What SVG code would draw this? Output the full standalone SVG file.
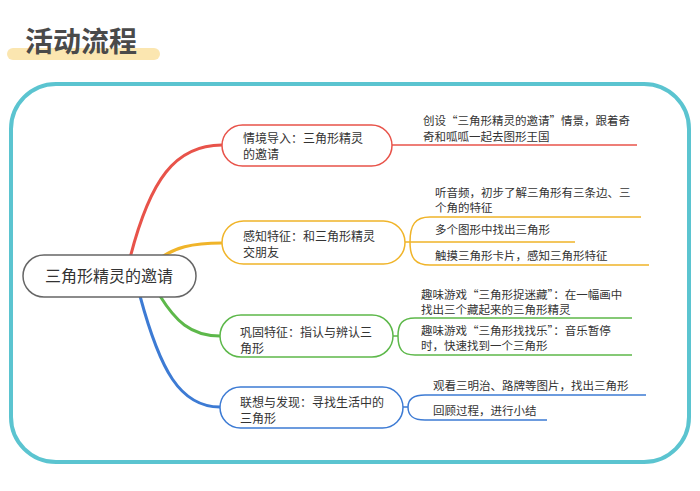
<svg xmlns="http://www.w3.org/2000/svg" width="700" height="491" viewBox="0 0 700 491">
<style>
text{font-family:"Noto Sans CJK SC","Noto Sans",sans-serif;fill:#333;font-size:12px}
.s{font-size:11.5px}
.n{fill:#fff;stroke-width:1.5}
.c{fill:none;stroke-width:3}
.l{fill:none;stroke-width:1.5}
</style>
<rect width="700" height="491" fill="#fff"/>
<g id="title">
<rect x="7" y="48" width="153" height="12" rx="6" fill="#fbe6b0"/>
<text x="25" y="52" style="font-size:28px;font-weight:bold;fill:#4a4a4a">活动流程</text>
</g>
<rect x="11" y="84" width="678" height="378" rx="45" fill="none" stroke="#5bc4d0" stroke-width="4"/>
<g id="connectors">
<path class="c" stroke="#e8534a" d="M130,258 C150,180 175,145 222,145"/>
<path class="c" stroke="#f0b429" d="M160,258 C175,248 190,243 222,243"/>
<path class="c" stroke="#5db84a" d="M160,296 C175,320 190,336 220,336"/>
<path class="c" stroke="#3d7bd4" d="M140,296 C160,370 180,407 220,407"/>
<path class="l" stroke="#e8534a" d="M392,145 H637"/>
<path class="l" stroke="#f0b429" d="M405,242 H410 C410,225 415,217 430,217 H641 M410,242 H575 M410,242 C410,258 415,265 430,265 H649"/>
<path class="l" stroke="#5db84a" d="M393,336 H398 C398,324 402,318 415,318 H632 M398,336 C398,349 402,355 415,355 H632"/>
<path class="l" stroke="#3d7bd4" d="M403,407 H408 C408,400 412,395 425,395 H646 M408,407 C408,415 412,420 425,420 H547"/>
</g>
<g id="root">
<rect x="23" y="255" width="173" height="42" rx="21" fill="#fff" stroke="#666" stroke-width="1.5"/>
<text x="109" y="282" text-anchor="middle" style="font-size:16px">三角形精灵的邀请</text>
</g>
<g id="n1">
<rect class="n" x="222" y="125" width="170" height="41" rx="20.5" stroke="#e8534a"/>
<text x="243" y="143">情境导入：三角形精灵</text><text x="243" y="159">的邀请</text>
<text class="s" x="423" y="125">创设“三角形精灵的邀请”情景，跟着奇</text><text class="s" x="423" y="141">奇和呱呱一起去图形王国</text>
</g>
<g id="n2">
<rect class="n" x="222" y="221" width="183" height="43" rx="21.5" stroke="#f0b429"/>
<text x="243" y="241">感知特征：和三角形精灵</text><text x="243" y="257">交朋友</text>
<text class="s" x="435" y="197">听音频，初步了解三角形有三条边、三</text><text class="s" x="435" y="212">个角的特征</text>
<text class="s" x="435" y="234">多个图形中找出三角形</text>
<text class="s" x="435" y="260">触摸三角形卡片，感知三角形特征</text>
</g>
<g id="n3">
<rect class="n" x="220" y="315" width="173" height="42" rx="21" stroke="#5db84a"/>
<text x="240" y="337">巩固特征：指认与辨认三</text><text x="240" y="353">角形</text>
<text class="s" x="421" y="299">趣味游戏“三角形捉迷藏”：在一幅画中</text><text class="s" x="421" y="314">找出三个藏起来的三角形精灵</text>
<text class="s" x="421" y="335">趣味游戏“三角形找找乐”：音乐暂停</text><text class="s" x="421" y="350">时，快速找到一个三角形</text>
</g>
<g id="n4">
<rect class="n" x="220" y="387" width="183" height="41" rx="20.5" stroke="#3d7bd4"/>
<text x="240" y="407">联想与发现：寻找生活中的</text><text x="240" y="423">三角形</text>
<text class="s" x="433" y="390">观看三明治、路牌等图片，找出三角形</text>
<text class="s" x="433" y="415">回顾过程，进行小结</text>
</g>
</svg>
